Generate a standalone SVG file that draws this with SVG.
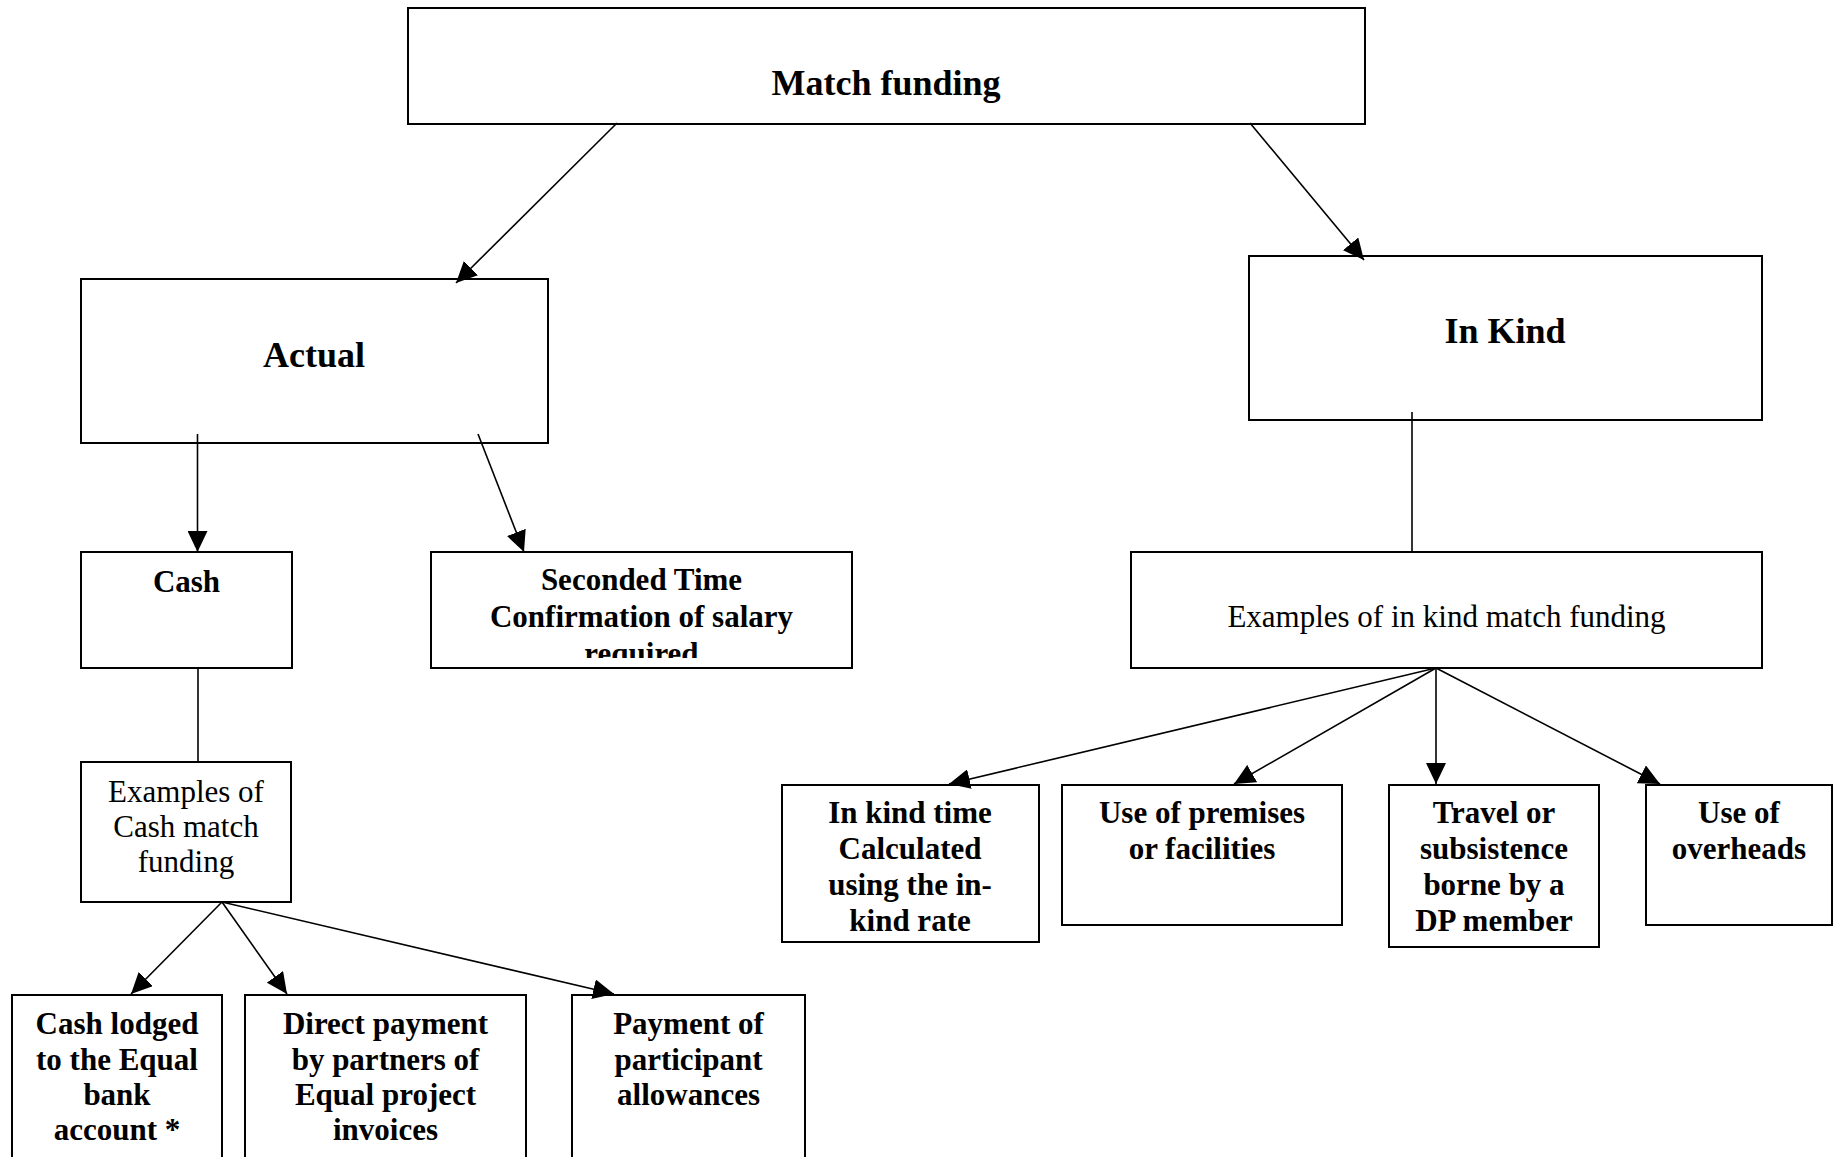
<svg xmlns="http://www.w3.org/2000/svg" width="1833" height="1157" viewBox="0 0 1833 1157">
<style>
.box{fill:#fff;stroke:#000;stroke-width:2}
.t{font-family:"Liberation Serif","Times New Roman",serif;fill:#000;text-anchor:middle}
.big{font-size:36px;font-weight:bold}
.b{font-size:31px;font-weight:bold}
.r{font-size:31px}
.c{stroke:#000;stroke-width:1.6;fill:none}
</style>
<defs>
<marker id="ah" markerUnits="userSpaceOnUse" markerWidth="22" markerHeight="20" refX="21" refY="10" orient="auto">
<path d="M0,0 L21,10 L0,20 Z" fill="#000"/>
</marker>
<clipPath id="secClip"><rect x="431" y="552" width="421" height="106"/></clipPath>
</defs>
<rect width="1833" height="1157" fill="#fff"/>
<g id="match-funding"><rect class="box" x="408" y="8" width="957" height="116"/><text class="t big" x="886" y="95">Match funding</text></g>
<g id="actual"><rect class="box" x="81" y="279" width="467" height="164"/><text class="t big" x="314" y="367">Actual</text></g>
<g id="in-kind"><rect class="box" x="1249" y="256" width="513" height="164"/><text class="t big" x="1505" y="343">In Kind</text></g>
<g id="cash"><rect class="box" x="81" y="552" width="211" height="116"/><text class="t b" x="186.5" y="592">Cash</text></g>
<g id="seconded-time"><rect class="box" x="431" y="552" width="421" height="116"/><g clip-path="url(#secClip)"><text class="t b" x="641.5" y="590">Seconded Time</text><text class="t b" x="641.5" y="627">Confirmation of salary</text><text class="t b" x="641.5" y="664">required</text></g></g>
<g id="examples-in-kind"><rect class="box" x="1131" y="552" width="631" height="116"/><text class="t r" x="1446.5" y="627">Examples of in kind match funding</text></g>
<g id="examples-cash"><rect class="box" x="81" y="762" width="210" height="140"/><text class="t r" x="186" y="802">Examples of</text><text class="t r" x="186" y="837">Cash match</text><text class="t r" x="186" y="872">funding</text></g>
<g id="cash-lodged"><rect class="box" x="12" y="995" width="210" height="170"/><text class="t b" x="117" y="1034">Cash lodged</text><text class="t b" x="117" y="1070">to the Equal</text><text class="t b" x="117" y="1105">bank</text><text class="t b" x="117" y="1140">account *</text></g>
<g id="direct-payment"><rect class="box" x="245" y="995" width="281" height="170"/><text class="t b" x="385.5" y="1034">Direct payment</text><text class="t b" x="385.5" y="1070">by partners of</text><text class="t b" x="385.5" y="1105">Equal project</text><text class="t b" x="385.5" y="1140">invoices</text></g>
<g id="participant-allowances"><rect class="box" x="572" y="995" width="233" height="170"/><text class="t b" x="688.5" y="1034">Payment of</text><text class="t b" x="688.5" y="1070">participant</text><text class="t b" x="688.5" y="1105">allowances</text></g>
<g id="in-kind-time"><rect class="box" x="782" y="785" width="257" height="157"/><text class="t b" x="910" y="823">In kind time</text><text class="t b" x="910" y="859">Calculated</text><text class="t b" x="910" y="895">using the in-</text><text class="t b" x="910" y="931">kind rate</text></g>
<g id="premises"><rect class="box" x="1062" y="785" width="280" height="140"/><text class="t b" x="1202" y="823">Use of premises</text><text class="t b" x="1202" y="859">or facilities</text></g>
<g id="travel"><rect class="box" x="1389" y="785" width="210" height="162"/><text class="t b" x="1494" y="823">Travel or</text><text class="t b" x="1494" y="859">subsistence</text><text class="t b" x="1494" y="895">borne by a</text><text class="t b" x="1494" y="931">DP member</text></g>
<g id="overheads"><rect class="box" x="1646" y="785" width="186" height="140"/><text class="t b" x="1739" y="823">Use of</text><text class="t b" x="1739" y="859">overheads</text></g>
<g id="connectors">
<line class="c" x1="617" y1="123" x2="456" y2="283" marker-end="url(#ah)"/>
<line class="c" x1="1250" y1="123" x2="1364" y2="260" marker-end="url(#ah)"/>
<line class="c" x1="197.5" y1="434" x2="197.5" y2="552" marker-end="url(#ah)"/>
<line class="c" x1="478" y1="434" x2="524" y2="552" marker-end="url(#ah)"/>
<line class="c" x1="1412" y1="412" x2="1412" y2="552"/>
<line class="c" x1="198" y1="668" x2="198" y2="762"/>
<line class="c" x1="222" y1="902" x2="131" y2="994" marker-end="url(#ah)"/>
<line class="c" x1="222" y1="902" x2="287" y2="994" marker-end="url(#ah)"/>
<line class="c" x1="222" y1="902" x2="614" y2="994" marker-end="url(#ah)"/>
<line class="c" x1="1436" y1="668" x2="949" y2="784" marker-end="url(#ah)"/>
<line class="c" x1="1436" y1="668" x2="1234" y2="784" marker-end="url(#ah)"/>
<line class="c" x1="1436" y1="668" x2="1436" y2="784" marker-end="url(#ah)"/>
<line class="c" x1="1436" y1="668" x2="1660" y2="784" marker-end="url(#ah)"/>
</g>
</svg>
